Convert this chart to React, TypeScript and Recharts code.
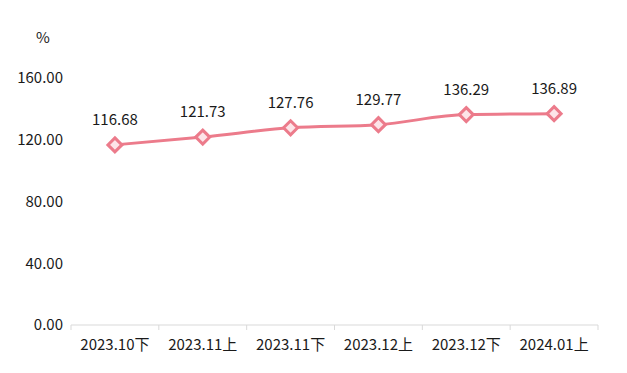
import React from 'react';
import { LineChart, Line, XAxis, YAxis, LabelList } from 'recharts';

const periods = ['2023.10下', '2023.11上', '2023.11下', '2023.12上', '2023.12下', '2024.01上'];
const ratios = [116.68, 121.73, 127.76, 129.77, 136.29, 136.89];
const yTicks = [0, 40, 80, 120, 160];

const data = periods.map((period, i) => ({ period, ratio: ratios[i] }));

const FONT = '"Noto Sans CJK SC", "Noto Sans", sans-serif';
const FS = 15;
const LINE = '#ec7b8b';
const AXIS = '#d9d9d9';
const WIDTH = 627;
const HEIGHT = 373;
const MARGIN = { top: 78, right: 29, bottom: 18, left: 0 };
const Y_WIDTH = 71;
const BAND = (WIDTH - MARGIN.right - Y_WIDTH) / periods.length;

const Diamond = (props: any) => {
  const { cx, cy } = props;
  if (cx == null || cy == null) return null;
  const r = 7;
  return (
    <polygon
      points={`${cx},${cy - r} ${cx + r},${cy} ${cx},${cy + r} ${cx - r},${cy}`}
      fill="#fde4e8"
      stroke={LINE}
      strokeWidth={3}
    />
  );
};

const XTick = (props: any) => {
  const { x, y, payload, index } = props;
  const left = x - BAND / 2;
  const right = x + BAND / 2;
  const top = y - 8;
  return (
    <g>
      <line x1={left} y1={top} x2={left} y2={top + 5} stroke={AXIS} />
      {index === periods.length - 1 && <line x1={right} y1={top} x2={right} y2={top + 5} stroke={AXIS} />}
      <text x={x} y={y + 17} textAnchor="middle" fill="#1a1a1a" fontSize={FS} fontFamily={FONT}>
        {payload.value}
      </text>
    </g>
  );
};

export default function App() {
  return (
    <div style={{ position: 'absolute', left: 0, top: 0, width: WIDTH, height: HEIGHT, background: '#fff' }}>
      <div style={{ position: 'absolute', left: 36, top: 26, fontFamily: FONT, fontSize: FS, color: '#1a1a1a' }}>%</div>
      <LineChart width={WIDTH} height={HEIGHT} data={data} margin={MARGIN}>
        <XAxis
          dataKey="period"
          stroke={AXIS}
          tickLine={false}
          tick={<XTick />}
          interval={0}
          height={30}
          padding={{ left: BAND / 2, right: BAND / 2 }}
        />
        <YAxis
          width={Y_WIDTH}
          domain={[0, 160]}
          ticks={yTicks}
          axisLine={false}
          tickLine={false}
          tickFormatter={(v: number) => v.toFixed(2)}
          tick={{ fill: '#1a1a1a', fontSize: FS, fontFamily: FONT }}
        />
        <Line
          type="monotone"
          dataKey="ratio"
          stroke={LINE}
          strokeWidth={3}
          dot={<Diamond />}
          activeDot={false}
          isAnimationActive={false}
        >
          <LabelList
            dataKey="ratio"
            position="top"
            offset={20}
            fill="#1a1a1a"
            fontSize={FS}
            fontFamily={FONT}
            formatter={(v: number) => v.toFixed(2)}
          />
        </Line>
      </LineChart>
    </div>
  );
}
